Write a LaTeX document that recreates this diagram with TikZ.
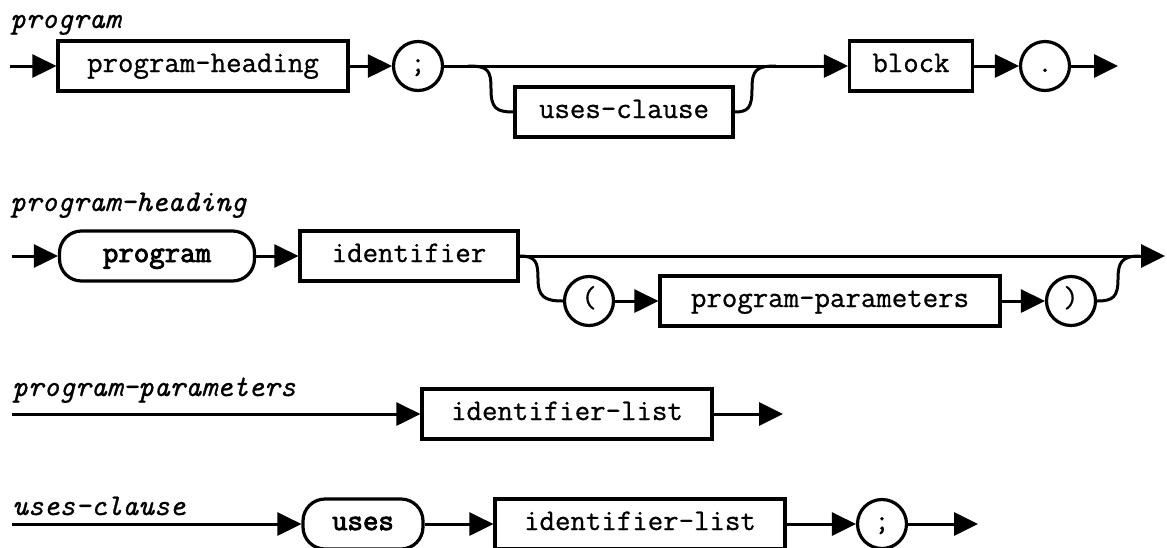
\documentclass[tikz,border=0pt]{standalone}
\usepackage{fontspec}
\setmonofont{Latin Modern Mono}[FakeBold=0.8]
\newfontfamily\kwfont{Latin Modern Mono}[FakeBold=3]
\usetikzlibrary{arrows.meta}
\begin{document}
\begin{tikzpicture}[x=1pt,y=-1pt,
  every node/.style={font=\ttfamily\fontsize{30}{34}\selectfont, inner sep=0pt,
    text height=18pt, text depth=6pt},
  ln/.style={line width=3pt},
  arr/.style={ln,-{Triangle[length=24pt,width=23pt]}},
  boxn/.style={draw,line width=3.2pt,minimum height=50pt},
  kwn/.style={draw,line width=3.2pt,rounded corners=22pt,minimum height=50pt,font=\kwfont\fontsize{30}{34}\selectfont},
  circn/.style={draw,circle,line width=3.2pt,minimum size=49pt},
  title/.style={anchor=base west,font=\ttfamily\itshape\fontsize{30}{34}\selectfont}]
\fill[white] (0,0) rectangle (1167,547);
\useasboundingbox (0,0) rectangle (1167,547);

% ---------- program ----------
\node[title] (t1) at (10,28) {program};
\coordinate (s1) at (10,66);
\node[boxn,minimum width=290pt] (ph) at (203,66) {program-heading};
\node[circn] (semi1) at (418,66) {;};
\node[boxn,minimum width=218pt] (uc) at (624,112) {uses-clause};
\node[boxn,minimum width=123pt] (blk) at (911,66) {block};
\node[circn] (dot) at (1045,66) {.};
\coordinate (e1) at (1118,66);
\coordinate (j1a) at (468,66);
\coordinate (j1b) at (776,66);
\draw[arr] (s1) -- (ph);
\draw[arr] (ph) -- (semi1);
\draw[arr] (semi1) -- (blk);
\draw[arr] (blk) -- (dot);
\draw[arr] (dot) -- (e1);
\draw[ln] (j1a) .. controls (488,66) and (491,70) .. (491,89)
          .. controls (491,108) and (496,112) .. (uc.west);
\draw[ln] (uc.east) .. controls (748,112) and (752,108) .. (752,89)
          .. controls (752,70) and (756,66) .. (j1b);

% ---------- program-heading ----------
\node[title] (t2) at (10,211) {program-heading};
\coordinate (s2) at (12,256);
\node[kwn,minimum width=195pt] (pk) at (157,256) {program};
\node[boxn,minimum width=218pt] (id) at (409,256) {identifier};
\node[circn] (lp) at (589,301) {(};
\node[boxn,minimum width=340pt] (pp) at (830,301) {program-parameters};
\node[circn] (rp) at (1071,301) {)};
\coordinate (e2) at (1165,256);
\coordinate (j2) at (1140,256);
\draw[arr] (s2) -- (pk);
\draw[arr] (pk) -- (id);
\draw[arr] (id.east) -- (e2);
\draw[ln] (id.east) .. controls (536,256) and (538,262) .. (538,279)
          .. controls (538,297) and (545,301) .. (lp.west);
\draw[arr] (lp) -- (pp);
\draw[arr] (pp) -- (rp);
\draw[ln] (rp.east) .. controls (1113,301) and (1118,297) .. (1118,279)
          .. controls (1118,262) and (1122,256) .. (j2);

% ---------- program-parameters ----------
\node[title] (t3) at (12,396) {program-parameters};
\coordinate (s3) at (12,414);
\node[boxn,minimum width=290pt] (il1) at (567,414) {identifier-list};
\coordinate (e3) at (783,414);
\draw[arr] (s3) -- (il1);
\draw[arr] (il1) -- (e3);

% ---------- uses-clause ----------
\node[title] (t4) at (12,515) {uses-clause};
\coordinate (s4) at (12,524);
\node[kwn,minimum width=120pt] (uk) at (363,524) {uses};
\node[boxn,minimum width=290pt] (il2) at (640,524) {identifier-list};
\node[circn] (semi2) at (882,524) {;};
\coordinate (e4) at (978,524);
\draw[arr] (s4) -- (uk);
\draw[arr] (uk) -- (il2);
\draw[arr] (il2) -- (semi2);
\draw[arr] (semi2) -- (e4);
\end{tikzpicture}
\end{document}
